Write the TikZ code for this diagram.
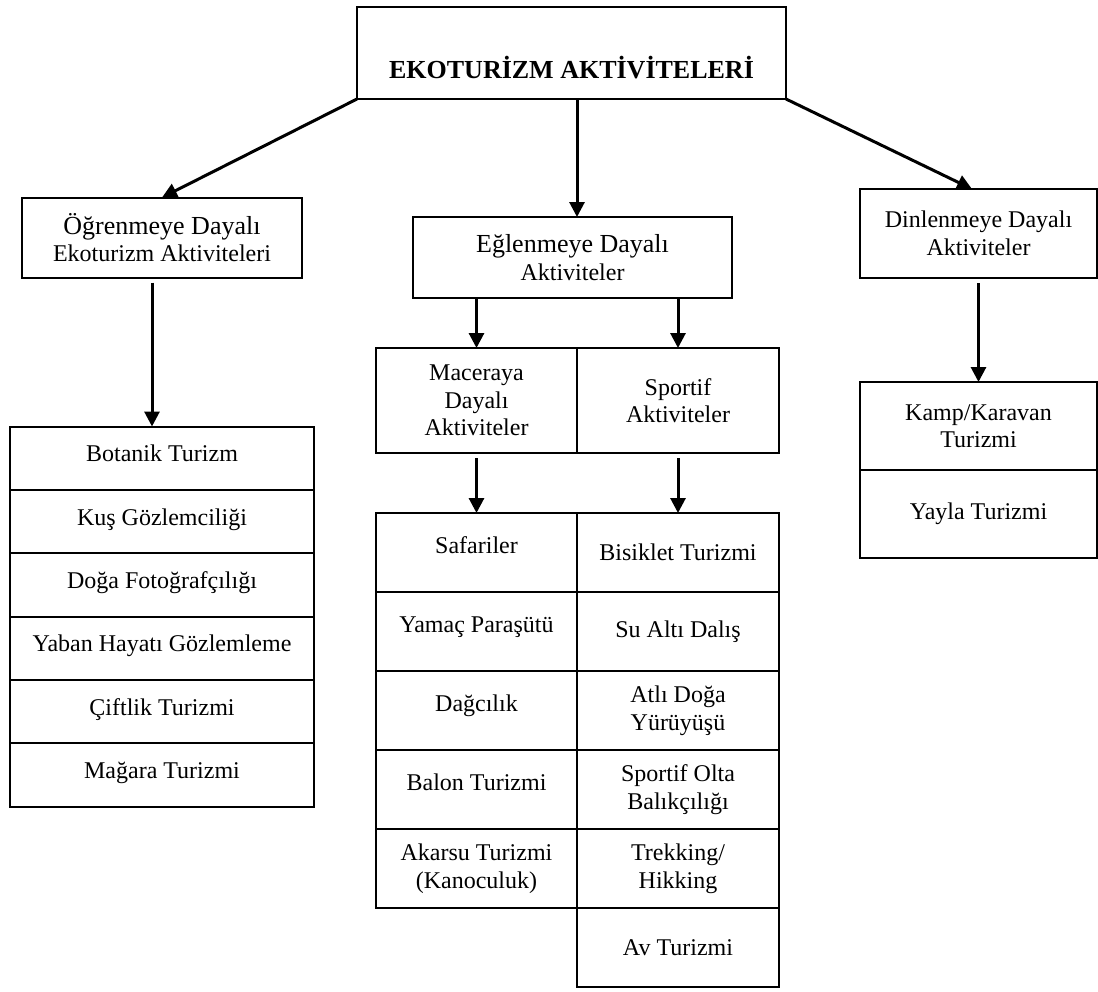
\documentclass[tikz,border=0pt]{standalone}
\usepackage{fontspec}
\setmainfont{Liberation Serif}
\usetikzlibrary{positioning,arrows.meta}

\tikzset{
  box/.style={draw, line width=1pt, inner sep=2pt, outer sep=0pt, align=center,
    font=\fontsize{12}{13.8}\selectfont},
  lrow/.style={box, minimum width=152pt, minimum height=31.67pt, text height=8.5pt, text depth=5pt},
  arow/.style={box, minimum width=100.5pt, minimum height=39.5pt, text height=8.5pt, text depth=7.5pt},
  srow/.style={box, minimum width=101pt, minimum height=39.5pt},
  rrow/.style={box, minimum width=118.5pt, minimum height=44pt},
  arr/.style={line width=1.5pt, -{Triangle[length=7.5pt,width=7.5pt]}},
}
\newcommand{\bigline}[1]{{\fontsize{13}{13.8}\selectfont #1}}

\begin{document}
\begin{tikzpicture}[x=0.5pt, y=-0.5pt]
  \useasboundingbox (0,0) rectangle (1098,991);

  \node[box, minimum width=214.5pt, minimum height=46pt, text height=25.6pt, text depth=0pt,
    font=\fontsize{13}{15}\selectfont\bfseries] (root) at (571.5,53) {EKOTURİZM AKTİVİTELERİ};

  \node[box, minimum width=140pt, minimum height=40pt] (learn) at (162,237.5) {\bigline{Öğrenmeye Dayalı}\\Ekoturizm Aktiviteleri};
  \node[box, minimum width=159.5pt, minimum height=40.5pt] (fun) at (572.5,257.5) {\bigline{Eğlenmeye Dayalı}\\Aktiviteler};
  \node[box, minimum width=118.5pt, minimum height=44.5pt] (rest) at (978.5,233.5) {Dinlenmeye Dayalı\\Aktiviteler};

  \node[box, minimum width=100.5pt, minimum height=52.5pt] (adv) at (476.5,400.5) {Maceraya\\Dayalı\\Aktiviteler};
  \node[box, minimum width=101pt, minimum height=52.5pt, right=0pt of adv] (sport) {Sportif\\Aktiviteler};

  % learning based
  \node[lrow, below=74.5pt of learn] (l1) {Botanik Turizm};
  \node[lrow, below=0pt of l1] (l2) {Kuş Gözlemciliği};
  \node[lrow, below=0pt of l2] (l3) {Doğa Fotoğrafçılığı};
  \node[lrow, below=0pt of l3] (l4) {Yaban Hayatı Gözlemleme};
  \node[lrow, below=0pt of l4] (l5) {Çiftlik Turizmi};
  \node[lrow, below=0pt of l5] (l6) {Mağara Turizmi};

  % adventure based
  \node[arow, below=30pt of adv] (a1) {Safariler};
  \node[arow, below=0pt of a1] (a2) {Yamaç Paraşütü};
  \node[arow, below=0pt of a2] (a3) {Dağcılık};
  \node[arow, below=0pt of a3] (a4) {Balon Turizmi};
  \node[box, minimum width=100.5pt, minimum height=39.5pt, below=0pt of a4] (a5) {Akarsu Turizmi\\(Kanoculuk)};

  % sportive
  \node[srow, right=0pt of a1] (s1) {Bisiklet Turizmi};
  \node[srow, below=0pt of s1] (s2) {Su Altı Dalış};
  \node[srow, below=0pt of s2] (s3) {Atlı Doğa\\Yürüyüşü};
  \node[srow, below=0pt of s3] (s4) {Sportif Olta\\Balıkçılığı};
  \node[srow, below=0pt of s4] (s5) {Trekking/\\Hikking};
  \node[srow, below=0pt of s5] (s6) {Av Turizmi};

  % resting based
  \node[rrow, below=52pt of rest] (k1) {Kamp/Karavan\\Turizmi};
  \node[rrow, below=0pt of k1] (k2) {Yayla Turizmi};

  \draw[arr] (root.south west) -- (learn.north);
  \draw[arr] (root.south -| sport.west) -- (fun.north -| sport.west);
  \draw[arr] (root.south east) -- ([xshift=-3.25pt]rest.north);

  \draw[arr, shorten <=2.5pt] ([xshift=-5pt]learn.south) -- ([xshift=-5pt]l1.north);
  \draw[arr] (adv.north |- fun.south) -- (adv.north);
  \draw[arr] (sport.north |- fun.south) -- (sport.north);
  \draw[arr, shorten <=2.5pt] (adv.south) -- (a1.north);
  \draw[arr, shorten <=2.5pt] (sport.south) -- (s1.north);
  \draw[arr, shorten <=2.5pt] (rest.south) -- (k1.north);
\end{tikzpicture}
\end{document}
